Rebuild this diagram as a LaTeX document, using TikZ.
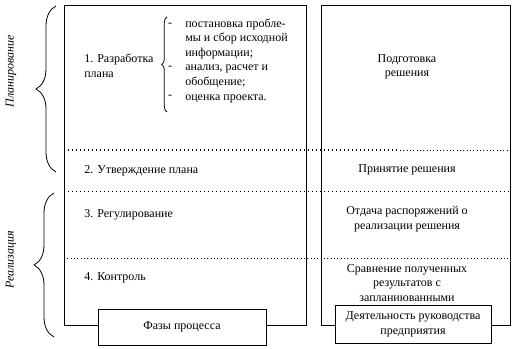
\documentclass[tikz,border=0pt]{standalone}
\usepackage{fontspec}
\setmainfont{Liberation Serif}
\usetikzlibrary{positioning, decorations.pathreplacing}

\begin{document}
\begin{tikzpicture}[
    x=0.75pt, y=-0.75pt,
    every node/.style={font=\fontsize{9}{10.9}\selectfont, inner sep=0pt},
    frame/.style={draw=black, line width=0.7pt},
    labelbox/.style={rectangle, draw=black, line width=0.7pt, fill=white,
                     align=center},
    phase/.style={anchor=west, align=left},
    duty/.style={align=center},
    thickdots/.style={line width=1pt, dotted},
    thindots/.style={line width=0.5pt, dotted},
    bracket/.style={decorate, line width=0.6pt,
                    decoration={brace, amplitude=#1}},
    side/.style={rotate=90, font=\fontsize{9}{10.9}\selectfont\itshape}
]
\useasboundingbox (0,0) rectangle (515,349);

% frames
\draw[frame] (64,5.5) rectangle (306,325);
\draw[frame] (321,5.5) rectangle (510,325);

% dotted separators
\draw[thickdots] (64,150) -- (400,150);
\draw[thindots] (400,150) -- (510,150);
\draw[thickdots] (64,191.5) -- (510,191.5);
\draw[thindots] (64,258) -- (510,258);

% left column
\node[phase] (plan) at (84,66) {1. Разработка\\плана};
\node[phase] (approve) at (84,171) {2. Утверждение плана};
\node[phase] (regul) at (84,215) {3. Регулирование};
\node[phase] (control) at (84,278) {4. Контроль};

% sub-items of the plan
\draw[bracket=4pt] (167,112) -- (167,17);
\node[anchor=north west, align=left] (items) at (185,18.5)
    {постановка пробле-\\мы и сбор исходной\\информации;\\анализ, расчет и\\обобщение;\\оценка проекта.};
\node (d1) at (170,25) {-};
\node (d2) at (170,68) {-};
\node (d3) at (170,97) {-};

% right column
\node[duty] (prep) at (407,67) {Подготовка\\решения};
\node[duty] (accept) at (407,170) {Принятие решения};
\node[duty] (orders) at (407,219) {Отдача распоряжений о\\реализации решения};
\node[duty] (compare) at (407,283) {Сравнение полученных\\результатов с\\запланиюванными};

% captions
\node[labelbox, minimum width=126pt, minimum height=27pt] (phases) at (182,327)
    {Фазы процесса};
\node[labelbox, minimum width=117pt, minimum height=28pt] (mgmt) at (413,324.5)
    {Деятельность руководства\\предприятия};

% stages
\draw[bracket=15pt] (56,172) -- (56,6);
\draw[bracket=15pt] (54,337) -- (54,193);
\node[side] (planning) at (11,71) {Планирование};
\node[side] (realize) at (11,260) {Реализация};
\end{tikzpicture}
\end{document}
